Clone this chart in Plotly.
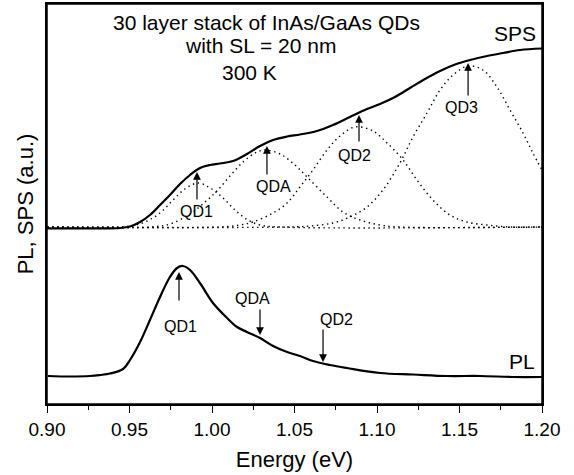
import plotly.graph_objects as go

# ---------------- data (Energy in eV, intensity in arbitrary units) ----------------
sps_energy = [0.9000, 0.9321, 0.9442, 0.9503, 0.9564, 0.9624, 0.9685, 0.9745, 0.9806, 0.9867,
              0.9927, 0.9988, 1.0048, 1.0127, 1.0212, 1.0291, 1.0370, 1.0455, 1.0533, 1.0636,
              1.0733, 1.0836, 1.0939, 1.1018, 1.1109, 1.1200, 1.1291, 1.1382, 1.1473, 1.1564,
              1.1667, 1.1764, 1.1867, 1.2000]
sps_signal = [175.7, 175.7, 176.0, 177.5, 182.0, 189.0, 199.0, 209.0, 220.0, 229.0,
              236.0, 239.0, 240.5, 243.0, 250.0, 258.0, 264.0, 267.5, 269.5, 273.0,
              279.0, 287.0, 295.0, 300.0, 307.0, 316.0, 325.0, 333.0, 339.5, 344.0,
              348.0, 351.0, 354.0, 355.5]

qd1_energy = [0.9000, 0.9382, 0.9503, 0.9594, 0.9685, 0.9764, 0.9836, 0.9915, 0.9988, 1.0061,
              1.0139, 1.0218, 1.0291, 1.0412, 1.2000]
qd1_signal = [177, 177, 178, 182, 191, 204, 215, 221, 216, 207, 194, 184, 179, 177, 177]

qda_energy = [0.9000, 0.9624, 0.9745, 0.9867, 0.9958, 1.0030, 1.0109, 1.0188, 1.0261, 1.0321,
              1.0412, 1.0503, 1.0576, 1.0697, 1.0794, 1.0897, 1.1018, 1.1139, 1.2000]
qda_signal = [177, 177, 180, 190, 202, 213, 228, 242, 251, 254,
              250, 239, 227, 207, 192, 184, 179, 177, 177]

qd2_energy = [0.9000, 1.0048, 1.0170, 1.0248, 1.0370, 1.0455, 1.0533, 1.0612, 1.0697, 1.0776,
              1.0867, 1.0976, 1.1061, 1.1158, 1.1242, 1.1339, 1.1442, 1.1545, 1.1667, 1.1806, 1.2000]
qd2_signal = [177, 177, 179, 182, 191, 201, 217, 234, 254, 268,
              277, 273, 261, 244, 224, 204, 189, 182, 179, 177, 177]

qd3_energy = [0.9000, 1.0473, 1.0594, 1.0733, 1.0836, 1.0939, 1.1036, 1.1139, 1.1218, 1.1303,
              1.1382, 1.1461, 1.1552, 1.1642, 1.1727, 1.1806, 1.1885, 1.1945, 1.2000]
qd3_signal = [177, 177, 178, 181, 187, 197, 214, 241, 267, 291,
              314, 329, 338, 334, 317, 294, 271, 251, 234]

pl_energy = [0.9006, 0.9139, 0.9261, 0.9321, 0.9382, 0.9461, 0.9503, 0.9564, 0.9624, 0.9685,
             0.9745, 0.9788, 0.9824, 0.9867, 0.9927, 1.0006, 1.0091, 1.0152, 1.0212, 1.0291,
             1.0370, 1.0455, 1.0533, 1.0612, 1.0715, 1.0818, 1.1018, 1.1218, 1.1424, 1.1624,
             1.1824, 1.2000]
pl_signal = [28.0, 27.5, 28.0, 29.0, 30.5, 35.0, 44.0, 62.0, 84.0, 107.0,
             127.0, 136.0, 138.0, 134.0, 121.0, 101.0, 86.0, 77.0, 72.0, 66.0,
             58.0, 52.0, 48.0, 43.0, 39.0, 36.0, 31.0, 29.5, 28.0, 28.0,
             27.0, 27.0]

title_lines = ["30 layer stack of InAs/GaAs QDs", "with SL = 20 nm", "300 K"]
x_ticks = [0.90, 0.95, 1.00, 1.05, 1.10, 1.15, 1.20]
x_tick_labels = ["0.90", "0.95", "1.00", "1.05", "1.10", "1.15", "1.20"]

# peak markers: (label, arrow x, arrow tail y, arrow tip y, text x, text y)
sps_marks = [("QD1", 0.9909, 203, 232, 0.9909, 193),
             ("QDA", 1.0333, 228, 258, 1.0370, 218),
             ("QD2", 1.0891, 261, 289, 1.0861, 249),
             ("QD3", 1.1552, 307, 341, 1.1515, 297)]
pl_marks = [("QD1", 0.9800, 102, 132, 0.9812, 78),
            ("QDA", 1.0291, 96, 69, 1.0248, 106),
            ("QD2", 1.0673, 76, 42, 1.0752, 85)]

FONT = "Liberation Sans, Arial, sans-serif"

fig = go.Figure()
dot_style = dict(color="black", width=1.4, dash="1.4px,3.6px")
for e, s in [(qd1_energy, qd1_signal), (qda_energy, qda_signal),
             (qd2_energy, qd2_signal), (qd3_energy, qd3_signal)]:
    fig.add_trace(go.Scatter(x=e, y=s, mode="lines", line=dict(shape="spline", **dot_style),
                             showlegend=False, hoverinfo="skip"))
fig.add_trace(go.Scatter(x=sps_energy, y=sps_signal, mode="lines",
                         line=dict(color="black", width=2.2, shape="spline"), showlegend=False))
fig.add_trace(go.Scatter(x=pl_energy, y=pl_signal, mode="lines",
                         line=dict(color="black", width=2.2, shape="spline"), showlegend=False))

ann = []
for lab, ax_, ay0, ay1, tx, ty in sps_marks + pl_marks:
    ann.append(dict(x=ax_, y=ay1, ax=ax_, ay=ay0, xref="x", yref="y", axref="x", ayref="y",
                    text="", showarrow=True, arrowhead=2, arrowsize=1.3, arrowwidth=1.2,
                    arrowcolor="black"))
    ann.append(dict(x=tx, y=ty, xref="x", yref="y", text=lab, showarrow=False,
                    font=dict(size=16, color="black", family=FONT)))

for txt, (tx, ty) in zip(title_lines, [(1.0333, 382), (1.0291, 359), (1.0230, 332)]):
    ann.append(dict(x=tx, y=ty, xref="x", yref="y", text=txt, showarrow=False,
                    font=dict(size=21, color="black", family=FONT)))
ann.append(dict(x=1.1836, y=371, xref="x", yref="y", text="SPS", showarrow=False,
                font=dict(size=21, color="black", family=FONT)))
ann.append(dict(x=1.1879, y=43, xref="x", yref="y", text="PL", showarrow=False,
                font=dict(size=21, color="black", family=FONT)))

fig.update_layout(
    width=574, height=475,
    margin=dict(l=47, r=32, t=4, b=71),
    paper_bgcolor="white", plot_bgcolor="white",
    font=dict(family=FONT, color="black"),
    annotations=ann,
    shapes=[dict(type="rect", xref="paper", yref="paper", x0=0, x1=1, y0=0, y1=1,
                 line=dict(color="black", width=1.5), fillcolor="rgba(0,0,0,0)", layer="above")],
    xaxis=dict(range=[0.9, 1.2], tickvals=x_ticks, ticktext=x_tick_labels,
               ticks="outside", ticklen=7, tickwidth=1.3, tickcolor="black",
               minor=dict(ticks="outside", ticklen=4, tickwidth=1.3, tickcolor="black", dtick=0.025, showgrid=False),
               showline=True, linecolor="black", linewidth=1.5, mirror=True,
               showgrid=False, zeroline=False, automargin=False,
               tickfont=dict(size=19, family=FONT, color="black"),
               title=dict(text="Energy (eV)", font=dict(size=22, family=FONT, color="black"), standoff=13)),
    yaxis=dict(range=[0, 400], showticklabels=False, ticks="",
               showline=True, linecolor="black", linewidth=1.5, mirror=True,
               showgrid=False, zeroline=False, automargin=False,
               title=dict(text="PL, SPS (a.u.)", font=dict(size=22, family=FONT, color="black"), standoff=6)),
)

fig.write_html("out.html", config={"displayModeBar": False},
               post_script="document.body.style.margin='0';")
